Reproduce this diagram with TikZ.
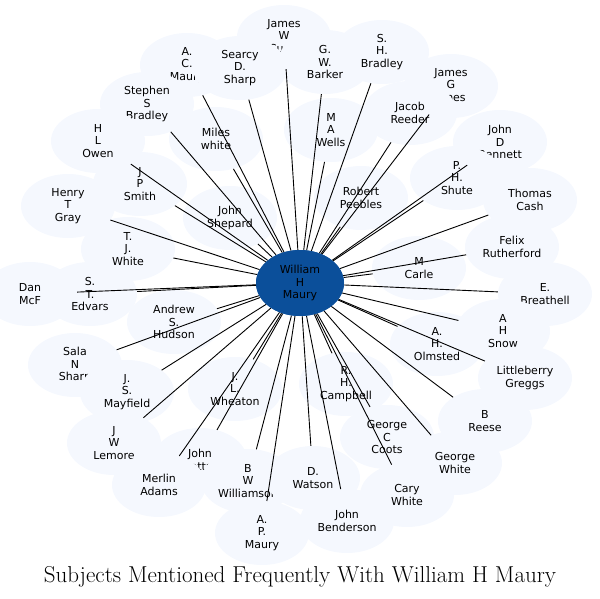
\documentclass[tikz,border=0pt]{standalone}
\usepackage{fontspec}
\newfontfamily\dv{DejaVu Sans}
\usetikzlibrary{shapes.geometric}
\definecolor{nfill}{HTML}{F5F8FE}
\definecolor{cfill}{HTML}{0B4F9A}
\begin{document}
\begin{tikzpicture}[x=1pt,y=-1pt,
  pnode/.style={ellipse,fill=nfill,minimum width=94pt,minimum height=64pt,inner sep=0pt,align=center,font=\dv\fontsize{11}{12.5}\selectfont},
  cnode/.style={ellipse,fill=cfill,minimum width=88pt,minimum height=66pt,inner sep=0pt,align=center,font=\dv\fontsize{11}{12.5}\selectfont},
  edge/.style={draw=black,line width=0.9pt}]
\useasboundingbox (0,0) rectangle (600,598);
\foreach \n/\x/\y/\t in {
 jc/284/37/{James\\W\\Curry}, acm/187/65/{A.\\C.\\Maury}, sds/240/68/{Searcy\\D.\\Sharp},
 gwb/325/62/{G.\\W.\\Barker}, shb/382/52/{S.\\H.\\Bradley}, jgj/451/86/{James\\G\\Jones},
 jr/410/113/{Jacob\\Reeder}, maw/331/130/{M\\A\\Wells}, jdb/500/142/{John\\D\\Bennett},
 ssb/147/104/{Stephen\\S\\Bradley}, mw/216/139/{Miles\\white}, hlo/98/141/{H\\L\\Owen},
 jps/140/184/{J\\P\\Smith}, phs/457/178/{P.\\H.\\Shute}, rp/361/198/{Robert\\Peebles},
 tc/530/200/{Thomas\\Cash}, htg/68/206/{Henry\\T\\Gray}, js/230/218/{John\\Shepard},
 tjw/128/249/{T.\\J.\\White}, fr/512/247/{Felix\\Rutherford}, mc/419/268/{M\\Carle},
 dm/30/294/{Dan\\McF}, eb/545/294/{E.\\Breathell}, ste/90/294/{S.\\T.\\Edvars},
 ash/174/322/{Andrew\\S.\\Hudson}, ahs/503/331/{A\\H\\Snow}, aho/437/344/{A.\\H.\\Olmsted},
 sns/75/365/{Sala\\N\\Sharp}, lg/525/378/{Littleberry\\Greggs}, jsm/127/392/{J.\\S.\\Mayfield},
 jlw/235/389/{J.\\L.\\Wheaton}, rhc/346/384/{R.\\H.\\Campbell}, br/485/421/{B\\Reese},
 gcc/387/437/{George\\C\\Coots}, jwl/114/443/{J\\W\\Lemore}, jwa/200/460/{John\\Wattan},
 gw/455/463/{George\\White}, ma/159/485/{Merlin\\Adams}, bww/248/481/{B\\W\\Williamson},
 dw/313/478/{D.\\Watson}, cw/407/495/{Cary\\White}, jb/347/521/{John\\Benderson},
 apm/262/533/{A.\\P.\\Maury}}
 { \node[pnode] (\n) at (\x,\y) {\t}; }
\node[cnode] (c) at (300,283) {William\\H\\Maury};
\foreach \n in {jc,acm,sds,gwb,shb,jgj,jr,maw,jdb,ssb,mw,hlo,jps,phs,rp,tc,htg,js,tjw,fr,mc,dm,eb,ste,ash,ahs,aho,sns,lg,jsm,jlw,rhc,br,gcc,jwl,jwa,gw,ma,bww,dw,cw,jb,apm}
 { \draw[edge] (c) -- (\n); }
\node[cnode] (c2) at (300,283) {William\\H\\Maury};
\node[font=\fontsize{23}{26}\selectfont] (title) at (300,577) {Subjects Mentioned Frequently With William H Maury};
\end{tikzpicture}
\end{document}
